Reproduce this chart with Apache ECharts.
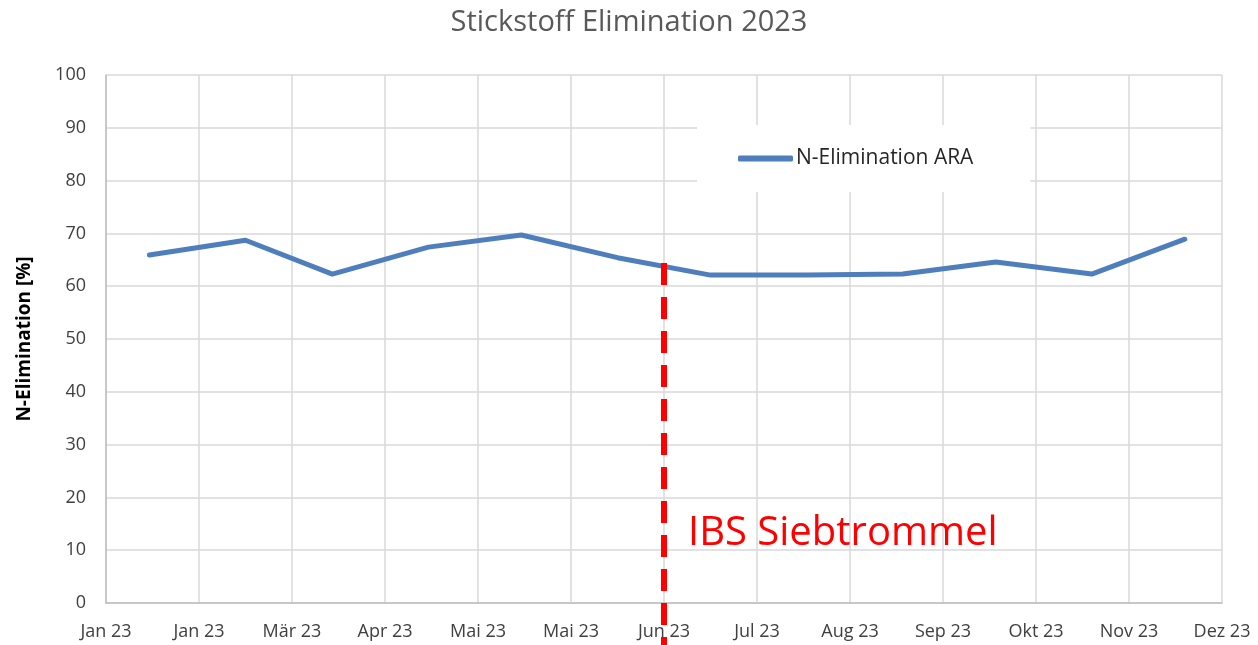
<!DOCTYPE html>
<html><head><meta charset="utf-8">
<script src="https://cdn.jsdelivr.net/npm/echarts@6/dist/echarts.min.js"></script>
<style>html,body{margin:0;padding:0;background:#fff}#c{width:1258px;height:645px}</style>
</head><body><div id="c"></div>
<script>
// Day offsets from 1 Jan 2023 (mid-month measurements)
const days = [14, 45, 73, 104, 134, 165, 195, 226, 257, 287, 318, 348];
const values = [65.9, 68.7, 62.3, 67.4, 69.7, 65.4, 62.1, 62.1, 62.3, 64.6, 62.3, 68.9];
const tickLabels = ['Jan 23','Jan 23','Mär 23','Apr 23','Mai 23','Mai 23','Jun 23','Jul 23','Aug 23','Sep 23','Okt 23','Nov 23','Dez 23'];
const markerDay = 180;
const markerTop = 64.4;
const markerBottom = -8.5;
const markerText = 'IBS Siebtrommel';
const seriesName = 'N-Elimination ARA';

const FONT = '"Open Sans", sans-serif';
const chart = echarts.init(document.getElementById('c'));
chart.setOption({
  animation: false,
  title: {text: 'Stickstoff Elimination 2023', left: 'center', top: 3,
    textStyle: {fontFamily: FONT, fontSize: 29, fontWeight: 'normal', color: '#595959'}},
  grid: {left: 106, right: 36, top: 75, bottom: 42},
  legend: {left: 697, top: 125, width: 340, padding: [23, 57, 23, 41], backgroundColor: '#fff',
    icon: 'roundRect', itemWidth: 55, itemHeight: 6, itemGap: 4,
    textStyle: {fontFamily: FONT, fontSize: 21, color: '#262626', padding: [0, 0, 0, -2]}, data: [seriesName]},
  xAxis: {type: 'value', min: 0, max: 360, interval: 30,
    axisLine: {show: true, lineStyle: {color: '#bfbfbf', width: 1.5}},
    axisTick: {show: false},
    splitLine: {show: true, lineStyle: {color: '#d9d9d9', width: 1.5}},
    axisLabel: {fontFamily: FONT, fontSize: 18, color: '#404040', margin: 20,
      formatter: v => tickLabels[Math.round(v / 30)] || ''}},
  yAxis: {type: 'value', min: 0, max: 100, interval: 10,
    name: 'N-Elimination [%]', nameLocation: 'middle', nameGap: 72,
    nameTextStyle: {fontFamily: FONT, fontSize: 19, fontWeight: 'bold', color: '#000'},
    axisLine: {show: true, lineStyle: {color: '#bfbfbf', width: 1.5}},
    axisTick: {show: false},
    splitLine: {show: true, lineStyle: {color: '#d9d9d9', width: 1.5}},
    axisLabel: {fontFamily: FONT, fontSize: 18, color: '#404040', margin: 20}},
  series: [{
    name: seriesName, type: 'line', symbol: 'none', z: 3,
    data: days.map((d, i) => [d, values[i]]),
    lineStyle: {color: '#4f7ebd', width: 5, cap: 'round', join: 'round'},
    itemStyle: {color: '#4f7ebd'}
  }]
});
const pt = chart.convertToPixel({gridIndex: 0}, [markerDay, markerTop]);
const pb = chart.convertToPixel({gridIndex: 0}, [markerDay, markerBottom]);
const ptxt = chart.convertToPixel({gridIndex: 0}, [markerDay, 13.5]);
chart.setOption({graphic: [
  {type: 'line', z: 10, shape: {x1: pt[0], y1: pt[1], x2: pb[0], y2: pb[1]},
    style: {stroke: '#ff0000', lineWidth: 6, lineDash: [22, 12]}},
  {type: 'text', z: 10, x: ptxt[0] + 24, y: ptxt[1] - 18,
    style: {text: markerText, fill: '#ff0000', fontFamily: FONT, fontSize: 40}}]});
</script></body></html>
